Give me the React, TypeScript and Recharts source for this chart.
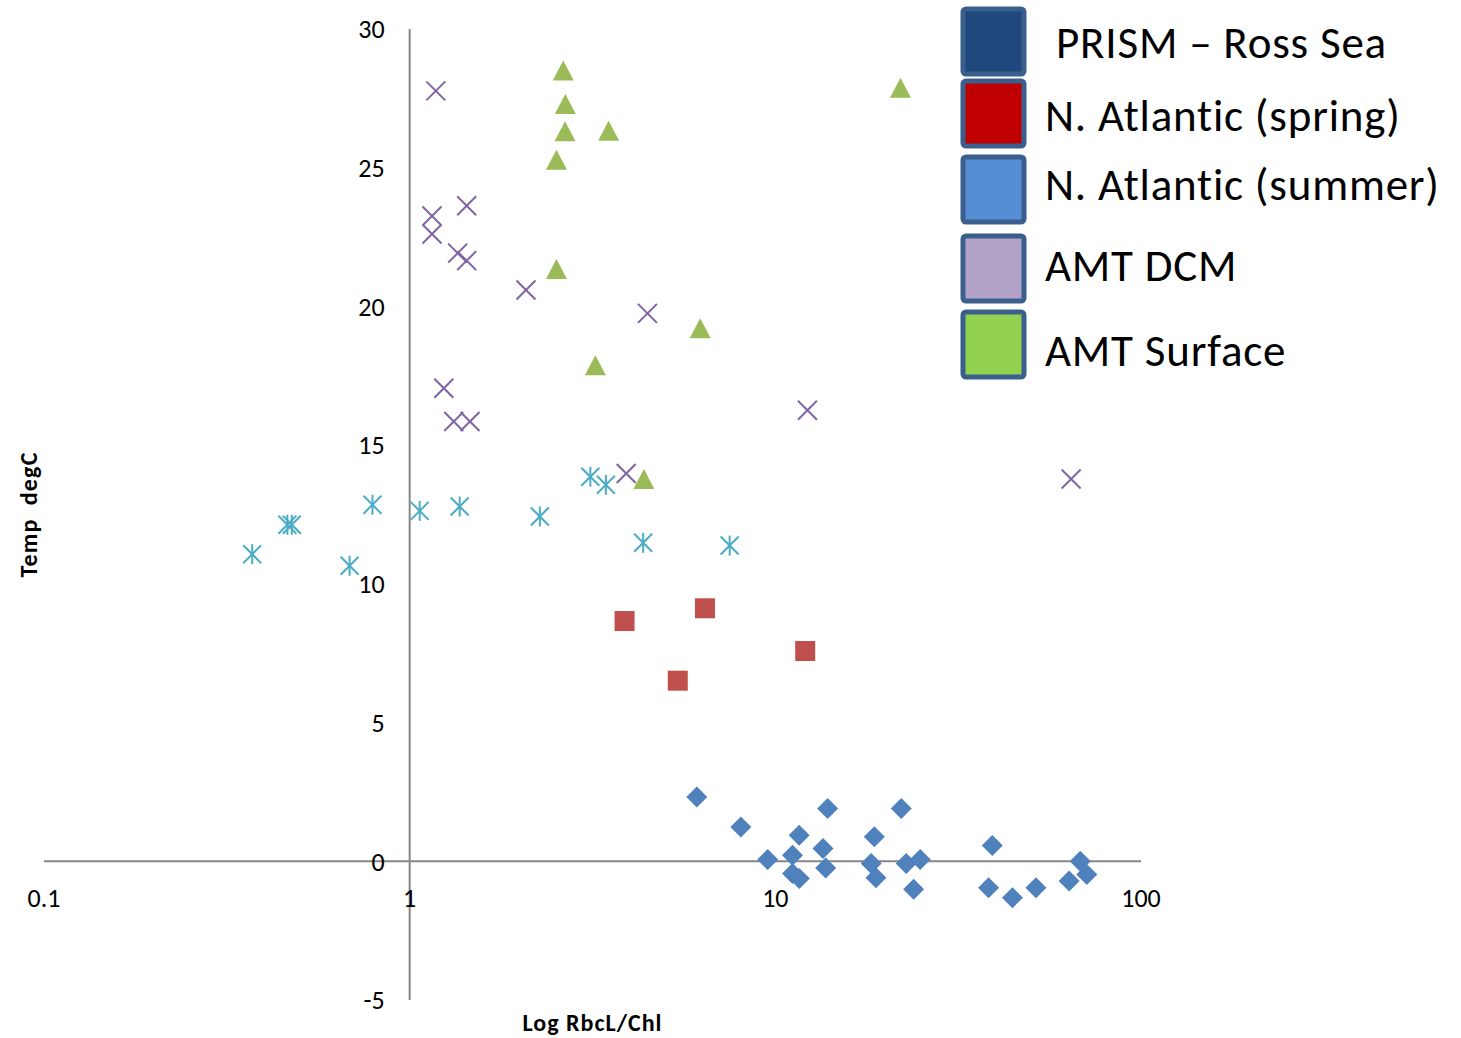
import { ScatterChart, Scatter, XAxis, YAxis, ReferenceLine, ReferenceDot } from 'recharts';

const FONT = 'Carlito, Calibri, Lato, sans-serif';

// Log RbcL/Chl (x) vs temperature degC (y)
const rossSea = [
  { x: 6.1, y: 2.32 }, { x: 8.05, y: 1.24 }, { x: 9.53, y: 0.06 }, { x: 11.14, y: 0.22 },
  { x: 11.62, y: 0.94 }, { x: 11.14, y: -0.44 }, { x: 11.63, y: -0.62 }, { x: 13.9, y: 1.9 },
  { x: 13.5, y: 0.46 }, { x: 13.73, y: -0.24 }, { x: 18.65, y: 0.88 }, { x: 18.29, y: -0.08 },
  { x: 18.84, y: -0.59 }, { x: 22.1, y: 1.9 }, { x: 22.8, y: -0.08 }, { x: 24.9, y: 0.06 },
  { x: 23.89, y: -1.01 }, { x: 39.2, y: 0.57 }, { x: 38.3, y: -0.95 }, { x: 44.5, y: -1.31 },
  { x: 51.6, y: -0.95 }, { x: 63.6, y: -0.71 }, { x: 68.2, y: 0.0 }, { x: 71.1, y: -0.48 },
];

const atlanticSpring = [
  { x: 3.87, y: 8.66 }, { x: 6.42, y: 9.12 }, { x: 12.07, y: 7.58 }, { x: 5.41, y: 6.51 },
];

const atlanticSummer = [
  { x: 0.371, y: 11.07 }, { x: 0.463, y: 12.13 }, { x: 0.476, y: 12.13 }, { x: 0.685, y: 10.65 },
  { x: 0.791, y: 12.85 }, { x: 1.065, y: 12.63 }, { x: 1.37, y: 12.79 }, { x: 2.27, y: 12.43 },
  { x: 3.12, y: 13.86 }, { x: 3.44, y: 13.57 }, { x: 4.35, y: 11.48 }, { x: 7.5, y: 11.38 },
];

const amtDcm = [
  { x: 1.179, y: 27.77 }, { x: 1.432, y: 23.63 }, { x: 1.151, y: 23.26 }, { x: 1.151, y: 22.61 },
  { x: 1.353, y: 21.92 }, { x: 1.432, y: 21.65 }, { x: 2.08, y: 20.59 }, { x: 4.47, y: 19.75 },
  { x: 12.24, y: 16.26 }, { x: 64.4, y: 13.78 }, { x: 3.91, y: 13.98 }, { x: 1.24, y: 17.05 },
  { x: 1.32, y: 15.85 }, { x: 1.462, y: 15.85 },
];

const amtSurface = [
  { x: 2.63, y: 28.5 }, { x: 2.665, y: 27.3 }, { x: 2.66, y: 26.31 }, { x: 3.5, y: 26.33 },
  { x: 2.52, y: 25.29 }, { x: 2.52, y: 21.35 }, { x: 6.23, y: 19.21 }, { x: 3.22, y: 17.88 },
  { x: 21.99, y: 27.88 }, { x: 4.37, y: 13.78 },
];

const xTicks = [0.1, 1, 10, 100];
const yTicks = [-5, 0, 5, 10, 15, 20, 25, 30];

const legendNames = ['PRISM \u2013 Ross Sea', 'N. Atlantic (spring)', 'N. Atlantic (summer)', 'AMT DCM', 'AMT Surface'];
const legendFills = ['#1F497D', '#C00000', '#558ED5', '#B3A2C7', '#92D050'];
// box tops, text baselines and text left for the legend block
const legendBoxTop = [7, 79, 155, 234, 310];
const legendBaseline = [58, 131, 200, 281, 366];
const legendTextX = [1056, 1045, 1045, 1045, 1045];

const Diamond = (p: any) => {
  const { cx, cy } = p;
  const r = 10.5;
  return <path d={`M${cx},${cy - r}L${cx + r},${cy}L${cx},${cy + r}L${cx - r},${cy}Z`} fill="#4F81BD" />;
};

const Square = (p: any) => {
  const { cx, cy } = p;
  return <rect x={cx - 10} y={cy - 10} width={20} height={20} fill="#C0504D" />;
};

const Asterisk = (p: any) => {
  const { cx, cy } = p;
  const r = 9;
  return (
    <g stroke="#4BACC6" strokeWidth={2}>
      <line x1={cx - r} y1={cy - r} x2={cx + r} y2={cy + r} />
      <line x1={cx - r} y1={cy + r} x2={cx + r} y2={cy - r} />
      <line x1={cx} y1={cy - r - 1} x2={cx} y2={cy + r + 1} />
    </g>
  );
};

const Cross = (p: any) => {
  const { cx, cy } = p;
  const r = 9.5;
  return (
    <g stroke="#8064A2" strokeWidth={2}>
      <line x1={cx - r} y1={cy - r} x2={cx + r} y2={cy + r} />
      <line x1={cx - r} y1={cy + r} x2={cx + r} y2={cy - r} />
    </g>
  );
};

const Triangle = (p: any) => {
  const { cx, cy } = p;
  return <path d={`M${cx},${cy - 10}L${cx + 10.5},${cy + 10}L${cx - 10.5},${cy + 10}Z`} fill="#9BBB59" />;
};

export default function App() {
  return (
    <div style={{ position: 'absolute', left: 0, top: 0, width: 1461, height: 1038, background: '#fff', fontFamily: FONT }}>
      <ScatterChart width={1461} height={1038} margin={{ top: 29, right: 320, bottom: 0, left: 0 }}>
        <XAxis
          type="number"
          dataKey="x"
          scale="log"
          domain={[0.1, 100]}
          allowDataOverflow
          height={38}
          tick={false}
          tickLine={false}
          axisLine={false}
          label={{ value: 'Log RbcL/Chl', position: 'center', dy: 3, fill: '#000', fontSize: 24, fontWeight: 700, letterSpacing: 1, fontFamily: FONT }}
        />
        <YAxis
          type="number"
          dataKey="y"
          domain={[-5, 30]}
          allowDataOverflow
          width={44}
          tick={false}
          tickLine={false}
          axisLine={false}
          label={{ value: 'Temp\u00a0 degC', angle: -90, position: 'center', dx: 6, fill: '#000', fontSize: 24, fontWeight: 700, letterSpacing: 1.2, fontFamily: FONT }}
        />
        <ReferenceLine x={1} stroke="#868686" strokeWidth={2} />
        <ReferenceLine y={0} stroke="#868686" strokeWidth={2} />
        {yTicks.map((t) => (
          <ReferenceDot key={'y' + t} x={1} y={t} r={0} ifOverflow="visible"
            label={{ value: t, position: 'left', offset: 25, fill: '#000', fontSize: 26, fontFamily: FONT }} />
        ))}
        {xTicks.map((t) => (
          <ReferenceDot key={'x' + t} x={t} y={0} r={0} ifOverflow="visible"
            label={{ value: t, position: 'bottom', offset: 27, fill: '#000', fontSize: 26, fontFamily: FONT }} />
        ))}
        <Scatter name="PRISM – Ross Sea" data={rossSea} shape={Diamond} isAnimationActive={false} />
        <Scatter name="N. Atlantic (spring)" data={atlanticSpring} shape={Square} isAnimationActive={false} />
        <Scatter name="N. Atlantic (summer)" data={atlanticSummer} shape={Asterisk} isAnimationActive={false} />
        <Scatter name="AMT DCM" data={amtDcm} shape={Cross} isAnimationActive={false} />
        <Scatter name="AMT Surface" data={amtSurface} shape={Triangle} isAnimationActive={false} />
      </ScatterChart>
      <svg width={1461} height={1038} style={{ position: 'absolute', left: 0, top: 0, pointerEvents: 'none' }}>
        {legendNames.map((n, i) => (
          <g key={n}>
            <rect x={963} y={legendBoxTop[i] + 2} width={61} height={65} rx={3} fill={legendFills[i]} stroke="#3B5F8D" strokeWidth={5} />
            <text x={legendTextX[i]} y={legendBaseline[i]} fontSize={45} letterSpacing={0.8} fontFamily={FONT} fill="#000">{n}</text>
          </g>
        ))}
      </svg>
    </div>
  );
}
